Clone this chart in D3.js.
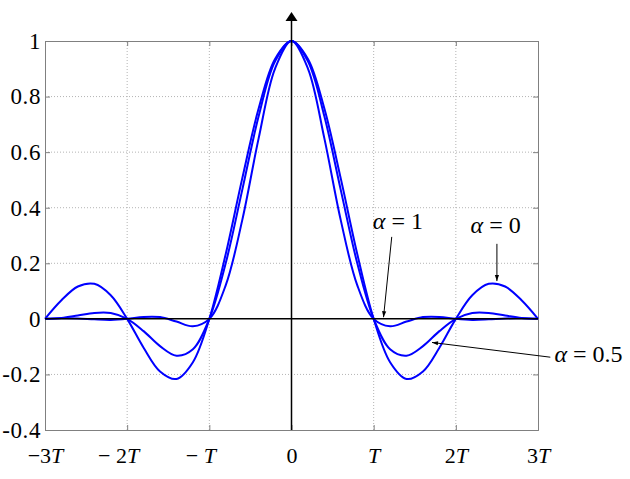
<!DOCTYPE html>
<html>
  <head>
    <meta charset="utf-8">
    <title>Raised cosine pulses</title>
    <script src="https://cdn.jsdelivr.net/npm/d3@7"></script>
    <style>
      body { margin: 0; background: #fff; }
      svg text { font-family: "Liberation Serif", "Times New Roman", serif; fill: #000; }
    </style>
  </head>
  <body>
    <script>

// chart size
var w = 630;
var h = 479;

// sample times (in units of T)
var tValues = [-3, -2.8, -2.6, -2.4, -2.2, -2, -1.8, -1.6, -1.4, -1.2, -1, -0.8, -0.6, -0.4, -0.2, 0,
               0.2, 0.4, 0.6, 0.8, 1, 1.2, 1.4, 1.6, 1.8, 2, 2.2, 2.4, 2.6, 2.8, 3];

// pulse values for each roll-off factor
var alpha0 = [0, 0.0668, 0.1164, 0.1261, 0.0850, 0, -0.1039, -0.1892, -0.2162, -0.1559, 0, 0.2339, 0.5046, 0.7568, 0.9355, 1,
              0.9355, 0.7568, 0.5046, 0.2339, 0, -0.1559, -0.2162, -0.1892, -0.1039, 0, 0.0850, 0.1261, 0.1164, 0.0668, 0];
var alpha05 = [0, 0.0030, 0.0119, 0.0214, 0.0211, 0, -0.0441, -0.0981, -0.1324, -0.1095, 0, 0.2008, 0.4634, 0.7289, 0.9268, 1,
               0.9268, 0.7289, 0.4634, 0.2008, 0, -0.1095, -0.1324, -0.0981, -0.0441, 0, 0.0211, 0.0214, 0.0119, 0.0030, 0];
var alpha1 = [0, 0.0018, 0.0014, -0.0018, -0.0037, 0, 0.0070, 0.0063, -0.0098, -0.0265, 0, 0.1213, 0.3544, 0.6496, 0.9010, 1,
              0.9010, 0.6496, 0.3544, 0.1213, 0, -0.0265, -0.0098, 0.0063, 0.0070, 0, -0.0037, -0.0018, 0.0014, 0.0018, 0];

// ticks
var xTicks = [-3, -2, -1, 0, 1, 2, 3];
var xTickLabels = ["\u22123T", "\u2212 2T", "\u2212 T", "0", "T", "2T", "3T"];
var yTicks = [-0.4, -0.2, 0, 0.2, 0.4, 0.6, 0.8, 1];
var yTickLabels = ["-0.4", "-0.2", "0", "0.2", "0.4", "0.6", "0.8", "1"];

// annotations: label, where the label sits (data coords), arrow start and arrow tip
var annoLabels = ["1", "0", "0.5"];
var annoText = [[0.99, 0.325], [2.18, 0.31], [3.2, -0.157]];
var annoFrom = [[1.22, 0.295], [2.5, 0.27], [3.15, -0.138]];
var annoTo = [[1.12, 0.006], [2.5, 0.136], [1.71, -0.085]];

var xScale = d3.scaleLinear().domain([-3, 3]).range([45, 538]);
var yScale = d3.scaleLinear().domain([-0.4, 1]).range([430, 41]);

var svg = d3.select("body").append("svg")
  .attr("width", w)
  .attr("height", h);

svg.append("defs").append("marker")
  .attr("id", "head")
  .attr("viewBox", "0 0 10 10")
  .attr("refX", 10).attr("refY", 5)
  .attr("markerWidth", 7).attr("markerHeight", 6)
  .attr("markerUnits", "userSpaceOnUse")
  .attr("orient", "auto")
  .append("path")
  .attr("d", "M0,1.5 L10,5 L0,8.5 Z")
  .attr("fill", "#000");

// dotted grid
svg.append("g").selectAll("line")
  .data(xTicks.filter(function(d){ return d != -3 && d != 3 && d != 0; }))
  .enter().append("line")
  .attr("x1", function(d){ return xScale(d); })
  .attr("x2", function(d){ return xScale(d); })
  .attr("y1", yScale(-0.4)).attr("y2", yScale(1))
  .attr("stroke", "#b4b4b4").attr("stroke-dasharray", "1,2");
svg.append("g").selectAll("line")
  .data(yTicks.filter(function(d){ return d != -0.4 && d != 1 && d != 0; }))
  .enter().append("line")
  .attr("y1", function(d){ return yScale(d); })
  .attr("y2", function(d){ return yScale(d); })
  .attr("x1", xScale(-3)).attr("x2", xScale(3))
  .attr("stroke", "#b4b4b4").attr("stroke-dasharray", "1,2");

// axes with inward ticks
var yAxis = d3.axisLeft(yScale).tickValues(yTicks).tickSize(-5).tickPadding(4)
  .tickFormat(function(d, i){ return yTickLabels[i]; });
var yAxisR = d3.axisRight(yScale).tickValues(yTicks).tickSize(-5).tickFormat("");
var xAxis = d3.axisBottom(xScale).tickValues(xTicks).tickSize(-5).tickPadding(17)
  .tickFormat(function(d, i){ return xTickLabels[i]; });
var xAxisT = d3.axisTop(xScale).tickValues(xTicks).tickSize(-5).tickFormat("");

var gy = svg.append("g").attr("transform", "translate(" + xScale(-3) + ",0)").call(yAxis);
svg.append("g").attr("transform", "translate(" + xScale(3) + ",0)").call(yAxisR);
var gx = svg.append("g").attr("transform", "translate(0," + yScale(-0.4) + ")").call(xAxis);
svg.append("g").attr("transform", "translate(0," + yScale(1) + ")").call(xAxisT);

svg.selectAll(".domain, .tick line").attr("stroke", "#808080");
gy.selectAll("text").attr("font-size", 23).attr("dy", "0.32em").attr("letter-spacing", 0.6);

// x labels: italic T
gx.selectAll("text").each(function(d, i){
  var lab = xTickLabels[i];
  var t = d3.select(this).text("")
    .attr("font-size", 22)
    .attr("dx", d < 0 && d > -3 ? -9 : 0);
  if (lab.indexOf("T") >= 0) {
    t.append("tspan").text(lab.replace("T", ""));
    t.append("tspan").attr("font-style", "italic").text("T");
  } else {
    t.text(lab);
  }
});

// pulse curves
var series = [alpha0, alpha05, alpha1];
var line = d3.line()
  .x(function(d, i){ return xScale(tValues[i]); })
  .y(function(d){ return yScale(d); })
  .curve(d3.curveCatmullRom);

svg.append("g").selectAll("path")
  .data(series)
  .enter().append("path")
  .attr("d", line)
  .attr("fill", "none")
  .attr("stroke", "#0000ff")
  .attr("stroke-width", 2);

// black axes on top
svg.append("line")
  .attr("x1", xScale(-3)).attr("x2", xScale(3))
  .attr("y1", yScale(0)).attr("y2", yScale(0))
  .attr("stroke", "#000").attr("stroke-width", 1.5);
svg.append("line")
  .attr("x1", xScale(0)).attr("x2", xScale(0))
  .attr("y1", yScale(-0.4)).attr("y2", 20)
  .attr("stroke", "#000").attr("stroke-width", 1.5);
svg.append("path")
  .attr("d", "M" + (xScale(0) - 6) + ",21 L" + xScale(0) + ",12 L" + (xScale(0) + 6) + ",21 Z")
  .attr("fill", "#000");

// annotations
annoLabels.forEach(function(lab, i){
  svg.append("line")
    .attr("x1", xScale(annoFrom[i][0])).attr("y1", yScale(annoFrom[i][1]))
    .attr("x2", xScale(annoTo[i][0])).attr("y2", yScale(annoTo[i][1]))
    .attr("stroke", "#000").attr("stroke-width", 1)
    .attr("marker-end", "url(#head)");
  var t = svg.append("text")
    .attr("x", xScale(annoText[i][0]))
    .attr("y", yScale(annoText[i][1]))
    .attr("font-size", 24);
  t.append("tspan").attr("font-style", "italic").text("\u03b1");
  t.append("tspan").text(" = " + lab);
});

    </script>
  </body>
</html>
